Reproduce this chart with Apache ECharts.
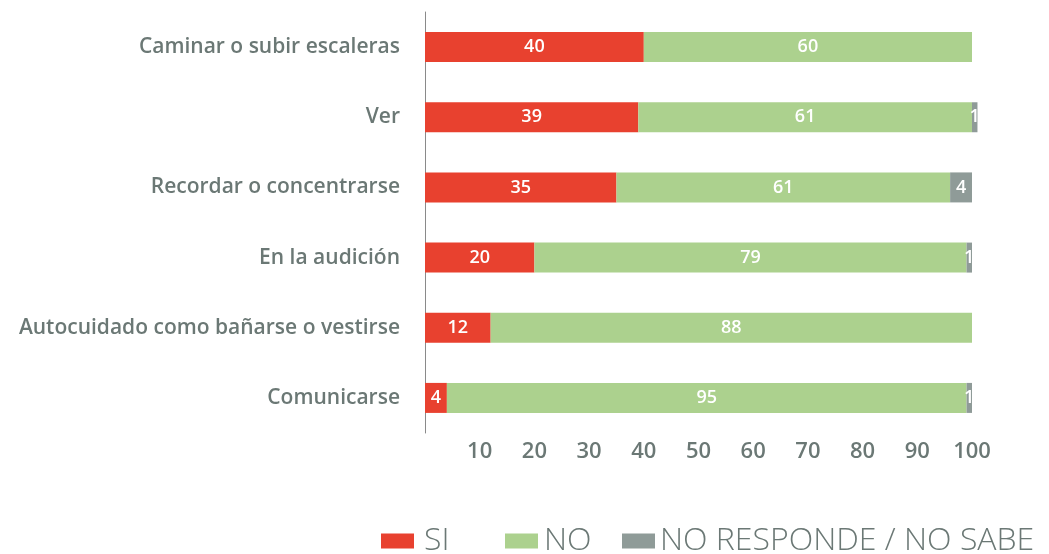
<!DOCTYPE html>
<html>
<head>
<meta charset="utf-8">
<script src="https://cdn.jsdelivr.net/npm/echarts@6/dist/echarts.min.js"></script>
<style>
  html, body { margin: 0; padding: 0; background: #fff; }
  #chart { width: 1049px; height: 554px; }
</style>
</head>
<body>
<div id="chart"></div>
<script>
// categories from top to bottom
const categories = [
  'Caminar o subir escaleras',
  'Ver',
  'Recordar o concentrarse',
  'En la audición',
  'Autocuidado como bañarse o vestirse',
  'Comunicarse'
]
const siData = [40, 39, 35, 20, 12, 4]
const noData = [60, 61, 61, 79, 88, 95]
const nsData = [0, 1, 4, 1, 0, 1]
const seriesNames = ['SI', 'NO', 'NO RESPONDE / NO SABE']
const colors = ['#e8412f', '#acd18e', '#8f9b98']

const textGray = '#6b7875'
const chart = echarts.init(document.getElementById('chart'))

const label = {
  show: true,
  position: 'inside',
  color: '#fff',
  fontFamily: 'Open Sans',
  fontWeight: 600,
  fontSize: 18,
  formatter: p => (p.value > 0 ? p.value : '')
}

function makeSeries(name, data, color) {
  return {
    name: name,
    type: 'bar',
    stack: 'total',
    barWidth: 30,
    data: data,
    itemStyle: { color: color },
    label: label,
    clip: false
  }
}

// one legend per item so each can sit where the reference has it
function makeLegend(name, left, pad) {
  return {
    left: left,
    top: 520,
    itemWidth: 33,
    itemHeight: 15,
    icon: 'rect',
    textStyle: {
      color: textGray,
      fontFamily: 'Open Sans',
      fontWeight: 300,
      fontSize: 32,
      lineHeight: 32,
      padding: [0, 0, 0, pad]
    },
    data: [name]
  }
}

chart.setOption({
  animation: false,
  grid: {
    left: 425,
    right: 77,
    top: 12,
    bottom: 121
  },
  legend: [
    makeLegend(seriesNames[0], 376, 5),
    makeLegend(seriesNames[1], 500, 1),
    makeLegend(seriesNames[2], 617, 0)
  ],
  xAxis: {
    type: 'value',
    min: 0,
    max: 100,
    interval: 10,
    axisLine: { show: false },
    axisTick: { show: false },
    splitLine: { show: false },
    axisLabel: {
      color: textGray,
      fontFamily: 'Open Sans',
      fontWeight: 600,
      fontSize: 22,
      margin: 8,
      formatter: v => (v === 0 ? '' : v)
    }
  },
  yAxis: {
    type: 'category',
    inverse: true,
    data: categories,
    axisLine: { show: true, lineStyle: { color: '#8a8a8a', width: 1 } },
    axisTick: { show: false },
    axisLabel: {
      color: textGray,
      fontFamily: 'Open Sans',
      fontWeight: 600,
      fontSize: 21,
      margin: 25
    }
  },
  series: [
    makeSeries(seriesNames[0], siData, colors[0]),
    makeSeries(seriesNames[1], noData, colors[1]),
    makeSeries(seriesNames[2], nsData, colors[2])
  ]
})
</script>
</body>
</html>
